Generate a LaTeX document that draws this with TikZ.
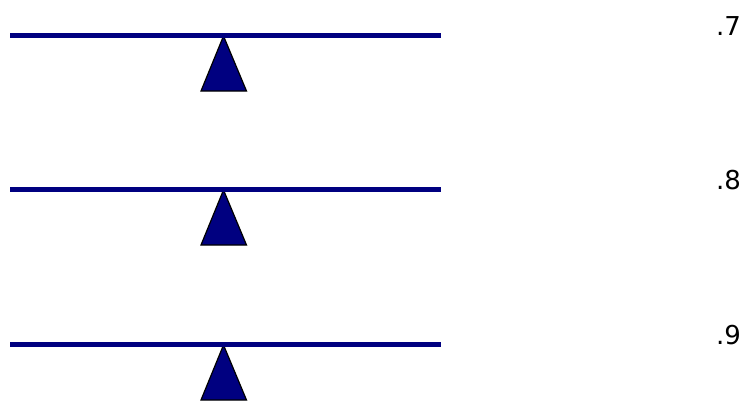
\documentclass[tikz,border=0pt]{standalone}
\usepackage{fontspec}
\setmainfont{DejaVu Sans}
\definecolor{navy}{HTML}{000080}
\tikzset{
  beam/.style={draw=navy, line width=5pt},
  fulcrum/.style={fill=navy, draw=black, line width=1.2pt, line join=miter},
  val/.style={font=\fontsize{26}{30}\selectfont, anchor=base west, inner sep=0pt}
}
\begin{document}
\begin{tikzpicture}[x=1pt,y=-1pt]
\useasboundingbox (0,0) rectangle (756,400);
\foreach \y/\t/\n in {35/.7/a, 189/.8/b, 344/.9/c}{
  \coordinate (\n apex) at (223.5,\y+1);
  \coordinate (\n bl) at (201,\y+56);
  \coordinate (\n br) at (246.5,\y+56);
  \draw[fulcrum] (\n apex) -- (\n bl) -- (\n br) -- cycle;
  \coordinate (\n L) at (10,\y);
  \coordinate (\n R) at (441,\y);
  \draw[beam] (\n L) -- (\n R);
  \node[val] (\n lab) at (716,\y+0.5) {\t};
}
\end{tikzpicture}
\end{document}
